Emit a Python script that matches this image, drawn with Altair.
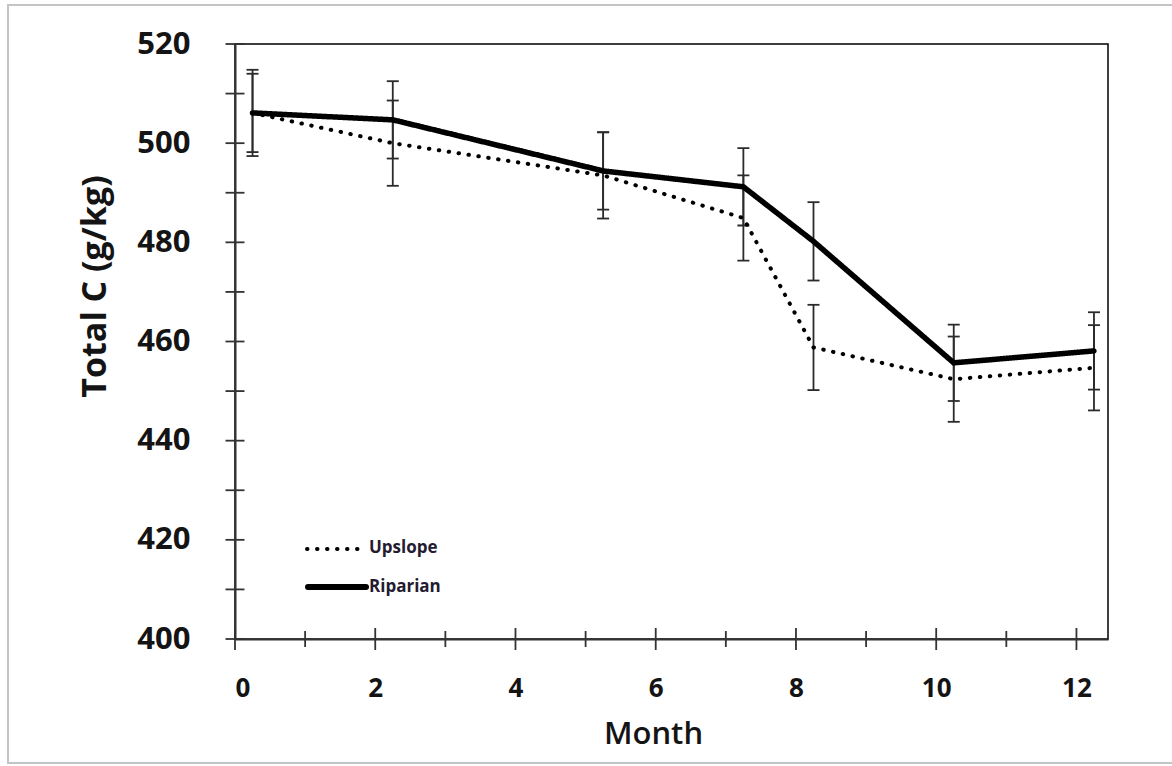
import altair as alt
import pandas as pd

# ---- data ----
months = [0.25, 2.25, 5.25, 7.25, 8.25, 10.25, 12.25]
upslope = [506.1, 500.0, 493.5, 484.9, 458.8, 452.4, 454.7]
upslope_se = [8.7, 8.6, 8.7, 8.6, 8.6, 8.6, 8.6]
riparian = [506.1, 504.7, 494.4, 491.2, 480.2, 455.7, 458.1]
riparian_se = [7.9, 7.8, 7.8, 7.8, 7.9, 7.7, 7.8]
series_names = ["Upslope", "Riparian"]
x_tick_values = list(range(0, 13))
x_label_values = [0, 2, 4, 6, 8, 10, 12]
y_tick_values = list(range(400, 521, 10))
y_label_values = [400, 420, 440, 460, 480, 500, 520]

rows = []
for name, vals, errs in [("Upslope", upslope, upslope_se), ("Riparian", riparian, riparian_se)]:
    for m, v, e in zip(months, vals, errs):
        rows.append({"series": name, "month": m, "value": v, "lo": v - e, "hi": v + e})
df = pd.DataFrame(rows)

xt_df = pd.DataFrame({"month": x_tick_values, "major": [m % 2 == 0 for m in x_tick_values]})
yt_df = pd.DataFrame({"value": y_tick_values})

W, H = 873, 595
FONT = "Open Sans"
INK = "#141414"

xscale = alt.Scale(domain=[0, 12.45], nice=False, zero=False)
yscale = alt.Scale(domain=[400, 520], nice=False, zero=False)

x_axis = alt.Axis(
    values=x_label_values, ticks=False, grid=False,
    labelFont=FONT, labelFontSize=26, labelFontWeight="bold", labelColor=INK,
    labelPadding=36, domainColor="#333333", domainWidth=2,
    title="Month", titleFont=FONT, titleFontSize=31, titleFontWeight=600,
    titleColor=INK, titleX=418, titleY=104, titleBaseline="alphabetic",
    titleAlign="center",
)
y_axis = alt.Axis(
    values=y_label_values, ticks=False, grid=False,
    labelFont=FONT, labelFontSize=31, labelFontWeight="bold", labelColor=INK,
    labelPadding=45, domainColor="#333333", domainWidth=2,
    title="Total C (g/kg)", titleFont=FONT, titleFontSize=34, titleFontWeight="bold",
    titleColor=INK, titleAngle=270, titleX=-140, titleY=242,
    titleAlign="center", titleBaseline="middle",
)


def X(field):
    return alt.X(field, scale=xscale, axis=x_axis)


def Y(field):
    return alt.Y(field, scale=yscale, axis=y_axis)


base = alt.Chart(df)

err_rule = base.mark_rule(color="#2b2b2b", strokeWidth=1.8).encode(
    x=X("month:Q"), y=Y("lo:Q"), y2="hi:Q",
)
cap_lo = base.mark_tick(orient="horizontal", size=12, thickness=1.8, color="#2b2b2b", opacity=1).encode(
    x=X("month:Q"), y=Y("lo:Q"),
)
cap_hi = base.mark_tick(orient="horizontal", size=12, thickness=1.8, color="#2b2b2b", opacity=1).encode(
    x=X("month:Q"), y=Y("hi:Q"),
)

lines = base.mark_line(color="black", strokeCap="round").encode(
    x=X("month:Q"),
    y=Y("value:Q"),
    strokeDash=alt.StrokeDash("series:N", scale=alt.Scale(domain=series_names, range=[[0.5, 9.5], [1, 0]]), legend=None),
    strokeWidth=alt.StrokeWidth("series:N", scale=alt.Scale(domain=series_names, range=[4, 5.5]), legend=None),
    detail="series:N",
)

y_ticks = alt.Chart(yt_df).mark_tick(orient="horizontal", size=19, thickness=1.8, color="#333333", opacity=1).encode(
    y=Y("value:Q"),
    x=alt.value(0),
)
x_ticks = alt.Chart(xt_df).mark_tick(orient="vertical", thickness=1.8, color="#333333", opacity=1).encode(
    x=X("month:Q"),
    y=alt.value(H),
    size=alt.Size("major:N", scale=alt.Scale(domain=[True, False], range=[22, 16]), legend=None),
)

leg_up = pd.DataFrame({"series": [series_names[0]]})
leg_rip = pd.DataFrame({"series": [series_names[1]]})
leg_up_line = alt.Chart(leg_up).mark_rule(color="black", strokeWidth=4, strokeDash=[0.5, 9.5], strokeCap="round").encode(
    x=alt.value(72), x2=alt.value(131), y=alt.value(505)
)
leg_rip_line = alt.Chart(leg_rip).mark_rule(color="black", strokeWidth=6, strokeCap="round").encode(
    x=alt.value(73), x2=alt.value(131), y=alt.value(543)
)
leg_up_text = alt.Chart(leg_up).mark_text(
    align="left", baseline="middle", font=FONT, fontSize=17, fontWeight="bold", color="#241b30"
).encode(x=alt.value(134), y=alt.value(504), text="series:N")
leg_rip_text = alt.Chart(leg_rip).mark_text(
    align="left", baseline="middle", font=FONT, fontSize=17, fontWeight="bold", color="#241b30"
).encode(x=alt.value(134), y=alt.value(543), text="series:N")

frame = alt.Chart(leg_up).mark_rect(fillOpacity=0, stroke="#c4c4c4", strokeWidth=2).encode(
    x=alt.value(-227), x2=alt.value(950), y=alt.value(-39), y2=alt.value(719)
)

chart = alt.layer(
    frame, err_rule, cap_lo, cap_hi, lines, y_ticks, x_ticks,
    leg_up_line, leg_rip_line, leg_up_text, leg_rip_text,
).properties(
    width=W, height=H,
    autosize=alt.AutoSizeParams(type="none"),
    padding={"left": 235, "top": 44, "right": 64, "bottom": 127},
    background="white",
).configure_view(
    stroke="black", strokeWidth=1.5
)

chart.save("out.html", embed_options={"renderer": "svg", "actions": False})
